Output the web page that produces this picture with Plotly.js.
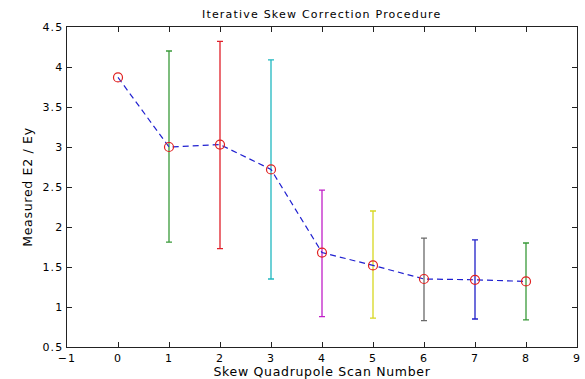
<!DOCTYPE html>
<html>
<head>
<meta charset="utf-8">
<script src="https://cdn.plot.ly/plotly-3.0.1.min.js"></script>
<style>
  html, body { margin: 0; padding: 0; background: #fff; }
  #chart { width: 585px; height: 379px; }
  /* wide, airy lettering for all chart text */
  #chart svg text { letter-spacing: 1.2px; }
  #chart svg text.xtitle, #chart svg text.ytitle { letter-spacing: 0.7px; }
</style>
</head>
<body>
<div id="chart"></div>
<script>
// Scan number and measured emittance ratio after each correction step
const scans = [0, 1, 2, 3, 4, 5, 6, 7, 8];
const ratio = [3.87, 3.00, 3.03, 2.72, 1.68, 1.52, 1.35, 1.34, 1.32];
// Upper and lower ends of the spread at each scan (none for the starting scan)
const upper = [null, 4.20, 4.32, 4.09, 2.46, 2.20, 1.86, 1.84, 1.80];
const lower = [null, 1.81, 1.73, 1.35, 0.88, 0.86, 0.83, 0.85, 0.84];
// Colour of each scan's error bar
const barColors = [null, '#3a9a3a', '#e0202a', '#20b8c0', '#c020c8', '#d8d820', '#6a6a6a', '#2020c8', '#3a9a3a'];

const traces = [];

// One trace per scan so that every error bar gets its own colour
scans.forEach((s, i) => {
  if (upper[i] === null) return;
  traces.push({
    x: [s], y: [ratio[i]],
    type: 'scatter', mode: 'markers',
    marker: { size: 1, color: 'rgba(0,0,0,0)' },
    error_y: {
      type: 'data', symmetric: false,
      array: [upper[i] - ratio[i]],
      arrayminus: [ratio[i] - lower[i]],
      color: barColors[i], thickness: 1.3, width: 3
    },
    hoverinfo: 'skip', showlegend: false
  });
});

// Dashed trend line with open circle markers
traces.push({
  x: scans, y: ratio,
  type: 'scatter', mode: 'lines+markers',
  line: { color: '#2020d0', width: 1.2, dash: '6px,4px' },
  marker: { symbol: 'circle-open', size: 9, color: '#e02020', line: { width: 1.2, color: '#e02020' } },
  showlegend: false
});

const textFont = { family: 'DejaVu Sans, Arial, sans-serif', size: 11, color: '#000' };
const labelFont = { family: 'DejaVu Sans, Arial, sans-serif', size: 12.5, color: '#000' };

const layout = {
  width: 585, height: 379,
  margin: { l: 67, r: 8, t: 27, b: 32 },
  paper_bgcolor: '#fff', plot_bgcolor: '#fff',
  showlegend: false,
  title: {
    text: 'Iterative Skew Correction Procedure',
    font: textFont,
    x: 0.55, xanchor: 'center', y: 0.963, yanchor: 'middle'
  },
  xaxis: {
    range: [-1, 9], dtick: 1, tick0: -1,
    showgrid: false, zeroline: false,
    showline: true, linecolor: '#222', linewidth: 1.3, mirror: 'ticks',
    ticks: 'inside', ticklen: 5, tickcolor: '#222', tickwidth: 1,
    tickfont: textFont,
    title: { text: 'Skew Quadrupole Scan Number', font: labelFont, standoff: 2 }
  },
  yaxis: {
    range: [0.5, 4.5], dtick: 0.5, tick0: 0.5,
    showgrid: false, zeroline: false,
    showline: true, linecolor: '#222', linewidth: 1.3, mirror: 'ticks',
    ticks: 'inside', ticklen: 5, tickcolor: '#222', tickwidth: 1,
    tickfont: textFont,
    title: { text: 'Measured E2 / Ey', font: labelFont, standoff: 10 }
  }
};

Plotly.newPlot('chart', traces, layout, { displayModeBar: false, staticPlot: true });
</script>
</body>
</html>
